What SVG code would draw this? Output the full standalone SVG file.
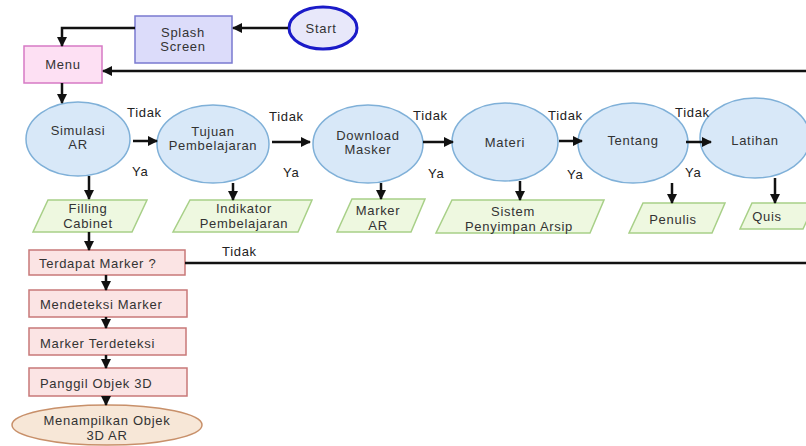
<svg xmlns="http://www.w3.org/2000/svg" width="806" height="446" viewBox="0 0 806 446">
<defs>
<marker id="ah" viewBox="0 0 10 10" refX="9" refY="5" markerWidth="10" markerHeight="10" markerUnits="userSpaceOnUse" orient="auto">
<path d="M0,0 L10,5 L0,10 Z" fill="#111"/>
</marker>
<style>
text{font-family:"Liberation Sans",Arial,sans-serif;font-size:13px;fill:#333;text-anchor:middle;letter-spacing:0.7px}
.lbl{fill:#222;text-anchor:start}
.lt{text-anchor:start}
.proc{fill:#d8e8f8;stroke:#7fb0d8;stroke-width:1.5}
.io{fill:#eef8e0;stroke:#a8d088;stroke-width:1.5}
.red{fill:#fbe4e4;stroke:#c87878;stroke-width:1.5}
.c{fill:none;stroke:#111;stroke-width:2.5}
.ca{fill:none;stroke:#111;stroke-width:2.5;marker-end:url(#ah)}
</style>
</defs>
<rect width="806" height="446" fill="#fff"/>

<g id="start">
<ellipse cx="323" cy="28" rx="34" ry="21" fill="#e8e8fa" stroke="#1a1ac8" stroke-width="3"/>
<text x="321" y="33">Start</text>
</g>
<g id="splash">
<rect x="135" y="16" width="97" height="47" fill="#dcdcfa" stroke="#7a7ad0" stroke-width="1.5"/>
<text x="183" y="37">Splash</text>
<text x="183" y="51">Screen</text>
</g>
<g id="menu">
<rect x="24" y="46" width="78" height="37" fill="#fde0f3" stroke="#d67ac5" stroke-width="1.5"/>
<text x="63" y="69">Menu</text>
</g>

<g id="simulasi">
<ellipse class="proc" cx="78" cy="139" rx="52" ry="37"/>
<text x="78" y="135">Simulasi</text>
<text x="78" y="149">AR</text>
</g>
<g id="tujuan">
<ellipse class="proc" cx="213" cy="144" rx="56" ry="39"/>
<text x="213" y="136">Tujuan</text>
<text x="213" y="150">Pembelajaran</text>
</g>
<g id="download">
<ellipse class="proc" cx="368" cy="144" rx="55" ry="39"/>
<text x="368" y="140">Download</text>
<text x="368" y="154">Masker</text>
</g>
<g id="materi">
<ellipse class="proc" cx="505" cy="142" rx="53" ry="39"/>
<text x="505" y="147">Materi</text>
</g>
<g id="tentang">
<ellipse class="proc" cx="633" cy="143" rx="55" ry="40"/>
<text x="633" y="145">Tentang</text>
</g>
<g id="latihan">
<ellipse class="proc" cx="755" cy="138" rx="55" ry="40"/>
<text x="755" y="145">Latihan</text>
</g>

<g id="filling">
<polygon class="io" points="48,200 147,200 132,232 33,232"/>
<text x="88" y="213">Filling</text>
<text x="88" y="228">Cabinet</text>
</g>
<g id="indikator">
<polygon class="io" points="190,200 312,200 298,232 173,232"/>
<text x="244" y="213">Indikator</text>
<text x="244" y="228">Pembelajaran</text>
</g>
<g id="marker">
<polygon class="io" points="352,199 425,199 411,232 337,232"/>
<text x="378" y="215">Marker</text>
<text x="378" y="230">AR</text>
</g>
<g id="sistem">
<polygon class="io" points="452,200 604,200 590,233 436,233"/>
<text x="513" y="216">Sistem</text>
<text x="519" y="231">Penyimpan Arsip</text>
</g>
<g id="penulis">
<polygon class="io" points="643,203 725,203 712,233 629,233"/>
<text x="673" y="224">Penulis</text>
</g>
<g id="quis">
<polygon class="io" points="752,203 815,203 803,229 740,229"/>
<text x="767" y="221">Quis</text>
</g>

<g id="terdapat">
<rect class="red" x="29" y="250" width="156" height="25"/>
<text class="lt" x="39" y="268">Terdapat Marker ?</text>
</g>
<g id="mendeteksi">
<rect class="red" x="29" y="290" width="158" height="27"/>
<text class="lt" x="40" y="309">Mendeteksi Marker</text>
</g>
<g id="terdeteksi">
<rect class="red" x="29" y="328" width="157" height="27"/>
<text class="lt" x="40" y="348">Marker Terdeteksi</text>
</g>
<g id="panggil">
<rect class="red" x="29" y="368" width="158" height="28"/>
<text class="lt" x="40" y="388">Panggil Objek 3D</text>
</g>
<g id="menampilkan">
<ellipse cx="107" cy="425" rx="95" ry="20" fill="#f7e7d7" stroke="#c8906a" stroke-width="1.5"/>
<text x="107" y="425">Menampilkan Objek</text>
<text x="107" y="440">3D AR</text>
</g>

<g id="connectors">
<path class="ca" d="M288,28 H233"/>
<path class="ca" d="M135,28 H62 V46"/>
<path class="ca" d="M806,71 H103"/>
<path class="ca" d="M62,83 V103"/>
<path class="ca" d="M133,141 H157"/>
<path class="ca" d="M272,142 H310"/>
<path class="ca" d="M423,142 H453"/>
<path class="ca" d="M559,141 H582"/>
<path class="ca" d="M686,142 H711"/>
<path class="ca" d="M89,176 V199"/>
<path class="ca" d="M233,183 V200"/>
<path class="ca" d="M381,183 V199"/>
<path class="ca" d="M520,181 V200"/>
<path class="ca" d="M672,183 V203"/>
<path class="ca" d="M775,178 V203"/>
<path class="ca" d="M89,232 V250"/>
<path class="c" d="M185,263 H806"/>
<path class="ca" d="M106,275 V290"/>
<path class="ca" d="M106,317 V328"/>
<path class="ca" d="M106,355 V368"/>
<path class="ca" d="M106,396 V405"/>
<text class="lbl" x="127" y="117">Tidak</text>
<text class="lbl" x="132" y="176">Ya</text>
<text class="lbl" x="269" y="121">Tidak</text>
<text class="lbl" x="283" y="177">Ya</text>
<text class="lbl" x="413" y="120">Tidak</text>
<text class="lbl" x="428" y="178">Ya</text>
<text class="lbl" x="548" y="120">Tidak</text>
<text class="lbl" x="567" y="179">Ya</text>
<text class="lbl" x="675" y="117">Tidak</text>
<text class="lbl" x="685" y="177">Ya</text>
<text class="lbl" x="222" y="256">Tidak</text>
</g>
</svg>
